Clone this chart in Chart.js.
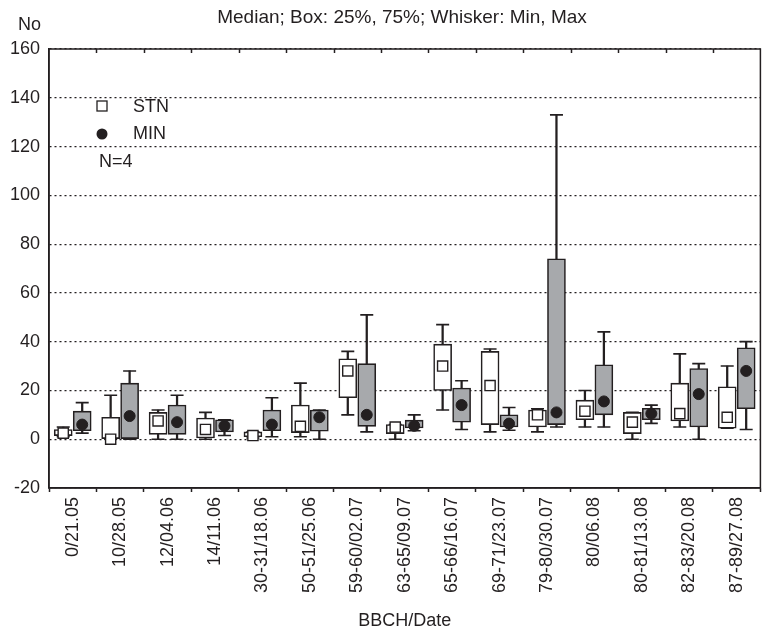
<!DOCTYPE html>
<html>
<head>
<meta charset="utf-8">
<script src="https://cdn.jsdelivr.net/npm/chart.js@4.4.0/dist/chart.umd.min.js"></script>
<style>
html,body{margin:0;padding:0;background:#fff;}
</style>
</head>
<body>
<canvas id="boxChart" width="769" height="635"></canvas>
<script>
// categories (BBCH stage / date)
const labels = ['0/21.05','10/28.05','12/04.06','14/11.06','30-31/18.06','50-51/25.06','59-60/02.07',
  '63-65/09.07','65-66/16.07','69-71/23.07','79-80/30.07','80/06.08','80-81/13.08','82-83/20.08','87-89/27.08'];

// STN: min, 25%, median, 75%, max
const stnMin = [1, 0, 0, 0, 0.5, 1, 10, 0, 12, 3, 3, 5, 0, 5, 4.5];
const stnQ1  = [1.5, 0, 2, 0.5, 1, 2.7, 17, 2.3, 20, 6, 5, 8, 2.3, 7.5, 4.5];
const stnMed = [2.5, 0, 7.5, 4, 1.5, 5.3, 28, 5, 30, 22, 10, 11.5, 7, 10.5, 9];
const stnQ3  = [4, 9, 11, 8.7, 3, 14, 33, 6, 39, 36, 12, 16, 11, 23, 21.5];
const stnMax = [5, 18, 12, 11, 3, 23, 36, 6, 47, 37, 12.5, 20, 11, 35, 30];

// MIN: min, 25%, median, 75%, max
const minMin = [2.5, 0, 0, 1.5, 1, 0, 3, 3.5, 4, 3.7, 5, 5, 6.5, 0, 4];
const minQ1  = [3.5, 0, 2, 3, 3.5, 3.3, 5.3, 4.6, 7, 5, 6, 10, 8, 5, 12.5];
const minMed = [6, 9.5, 7, 5.5, 6, 9, 10, 5.5, 14, 6.4, 11, 15.5, 10.5, 18.5, 28];
const minQ3  = [11.5, 23, 14, 8, 12, 12, 31, 7.8, 21, 10, 74, 30.5, 12.7, 29, 37.5];
const minMax = [15, 28, 18, 8, 17, 12, 51, 10, 24, 13, 133, 44, 14, 31, 40];

const yTicks = [-20, 0, 20, 40, 60, 80, 100, 120, 140, 160];

const INK = '#231f20';
const GREY = '#a7a9ac';
const FONT = "'Liberation Sans', Arial, sans-serif";
const SHIFT = 0.2;

Chart.defaults.font.family = FONT;
Chart.defaults.color = INK;

function pts(vals, shift){
  return vals.map((v,i) => ({x: i + shift, y: v}));
}
function ranges(lo, hi, shift){
  return lo.map((v,i) => ({x: i + shift, y: [v, hi[i]]}));
}

// title, legend text and frame
const decor = {
  id: 'decor',
  afterDraw(chart){
    const ctx = chart.ctx;
    const a = chart.chartArea;
    const xs = chart.scales.x;
    ctx.save();
    ctx.strokeStyle = INK;
    ctx.lineWidth = 1.5;
    ctx.strokeRect(a.left, a.top, a.right - a.left, a.bottom - a.top);
    // small inner ticks on top edge
    for(let i=0;i<labels.length-1;i++){
      const px = Math.round(xs.getPixelForValue(i + 0.5)) + 0.5;
      ctx.beginPath();
      ctx.moveTo(px, a.top);
      ctx.lineTo(px, a.top + 4);
      ctx.stroke();
    }
    ctx.fillStyle = INK;
    ctx.textBaseline = 'alphabetic';
    ctx.font = '19px ' + FONT;
    ctx.textAlign = 'center';
    ctx.fillText('Median; Box: 25%, 75%; Whisker: Min, Max', 402, 23);
    ctx.textAlign = 'left';
    ctx.font = '18px ' + FONT;
    ctx.fillText('No', 18, 30);
    // legend
    ctx.fillStyle = '#fff';
    ctx.lineWidth = 1.3;
    ctx.fillRect(97, 101, 10, 10);
    ctx.strokeRect(97, 101, 10, 10);
    ctx.fillStyle = INK;
    ctx.beginPath();
    ctx.arc(102, 134, 5.5, 0, Math.PI*2);
    ctx.fill();
    ctx.textBaseline = 'middle';
    ctx.fillText('STN', 133, 107);
    ctx.fillText('MIN', 133, 134);
    ctx.fillText('N=4', 99, 162);
    ctx.restore();
  }
};

new Chart(document.getElementById('boxChart'), {
  type: 'bar',
  data: {
    datasets: [
      {type:'scatter', label:'STN', data: pts(stnMed, -SHIFT), pointStyle:'rect', pointRadius:7.2,
        backgroundColor:'#fff', borderColor:INK, borderWidth:1.4, order:0},
      {type:'scatter', label:'MIN', data: pts(minMed, SHIFT), pointStyle:'circle', pointRadius:5.5,
        backgroundColor:INK, borderColor:INK, borderWidth:1, order:0},
      {label:'STN box', data: ranges(stnQ1, stnQ3, -SHIFT), backgroundColor:'#fff', borderColor:INK,
        borderWidth:1.6, borderSkipped:false, barThickness:18, grouped:false, order:1},
      {label:'MIN box', data: ranges(minQ1, minQ3, SHIFT), backgroundColor:GREY, borderColor:INK,
        borderWidth:1.6, borderSkipped:false, barThickness:18, grouped:false, order:1},
      {label:'STN whisker', data: ranges(stnMin, stnMax, -SHIFT), backgroundColor:INK, borderWidth:0,
        barThickness:1.6, grouped:false, order:2},
      {label:'MIN whisker', data: ranges(minMin, minMax, SHIFT), backgroundColor:INK, borderWidth:0,
        barThickness:1.6, grouped:false, order:2},
      {type:'scatter', label:'STN caps', data: pts(stnMin, -SHIFT).concat(pts(stnMax, -SHIFT)),
        pointStyle:'line', pointRadius:6.5, borderColor:INK, borderWidth:1.6, order:2},
      {type:'scatter', label:'MIN caps', data: pts(minMin, SHIFT).concat(pts(minMax, SHIFT)),
        pointStyle:'line', pointRadius:6.5, borderColor:INK, borderWidth:1.6, order:2}
    ]
  },
  options: {
    responsive: false,
    animation: false,
    events: [],
    layout: {padding: {top: 49, right: 5, left: 0, bottom: 0}},
    plugins: {legend: {display: false}, tooltip: {enabled: false}, title: {display: false}},
    scales: {
      x: {
        type: 'linear',
        min: -0.5,
        max: 14.5,
        offset: false,
        afterFit(s){ s.height = 147; },
        afterBuildTicks(s){ s.ticks = labels.map((_, i) => ({value: i})); },
        ticks: {
          autoSkip: false,
          minRotation: 90,
          maxRotation: 90,
          padding: 5,
          color: INK,
          font: {size: 18},
          callback: (v) => labels[v]
        },
        grid: {offset: true, drawOnChartArea: false, drawTicks: true, tickLength: 4, tickColor: INK, tickWidth: 1.5},
        border: {display: true, color: INK, width: 1.5},
        title: {display: true, text: 'BBCH/Date', color: INK, font: {size: 18}, padding: {top: 4, bottom: 3}}
      },
      y: {
        min: -20,
        max: 160,
        afterFit(s){ s.width = 49; },
        afterBuildTicks(s){ s.ticks = yTicks.map(v => ({value: v})); },
        ticks: {padding: 9, color: INK, font: {size: 18}},
        grid: {color: INK, lineWidth: 1.2, drawTicks: false},
        border: {display: true, color: INK, width: 1.5, dash: [2, 3]}
      }
    }
  },
  plugins: [decor]
});
</script>
</body>
</html>
